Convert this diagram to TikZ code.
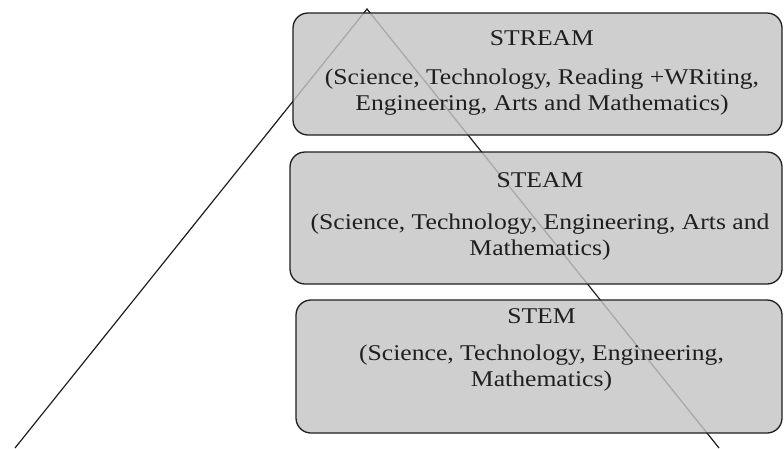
\documentclass[tikz,border=0pt]{standalone}
\usepackage{fontspec}
\setmainfont{Liberation Serif}
\newfontfamily\layerfont[FakeStretch=1.14]{Liberation Serif}
\usepackage{tikz}
\usetikzlibrary{positioning}
\definecolor{boxgray}{gray}{0.77}
\definecolor{inkgray}{gray}{0.12}

\tikzset{
  layerbox/.style={draw=inkgray, line width=1.3pt, rounded corners=15pt,
                   fill=boxgray, fill opacity=0.82, inner sep=0pt},
  layertext/.style={align=center, text=inkgray, inner sep=0pt,
                    font=\layerfont\fontsize{22.5}{26}\selectfont}
}

\begin{document}
\begin{tikzpicture}[x=1pt, y=-1pt]
  \useasboundingbox (0,0) rectangle (784,448);
  % triangle first, the boxes sit over it
  \coordinate (apex) at (367,9);
  \coordinate (baseleft) at (15,448);
  \coordinate (baseright) at (719,448);
  \draw[line width=1.2pt, inkgray] (baseleft) -- (apex) -- (baseright);

  \node[layerbox, minimum width=489pt, minimum height=122pt] (stream) at (537.5,74) {};
  \node[layerbox, minimum width=492pt, minimum height=132pt] (steam) at (536,218) {};
  \node[layerbox, minimum width=486pt, minimum height=133pt] (stem) at (539,366.5) {};

  \node[layertext, below=18pt of stream.north, xshift=4.5pt] (streamtext) {%
    STREAM\\[13pt]
    (Science, Technology, Reading +WRiting,\\
    Engineering, Arts and Mathematics)};
  \node[layertext, below=21pt of steam.north, xshift=4pt] (steamtext) {%
    STEAM\\[16pt]
    (Science, Technology, Engineering, Arts and\\
    Mathematics)};
  \node[layertext, below=9pt of stem.north, xshift=2.5pt] (stemtext) {%
    STEM\\[11pt]
    (Science, Technology, Engineering,\\
    Mathematics)};
\end{tikzpicture}
\end{document}
